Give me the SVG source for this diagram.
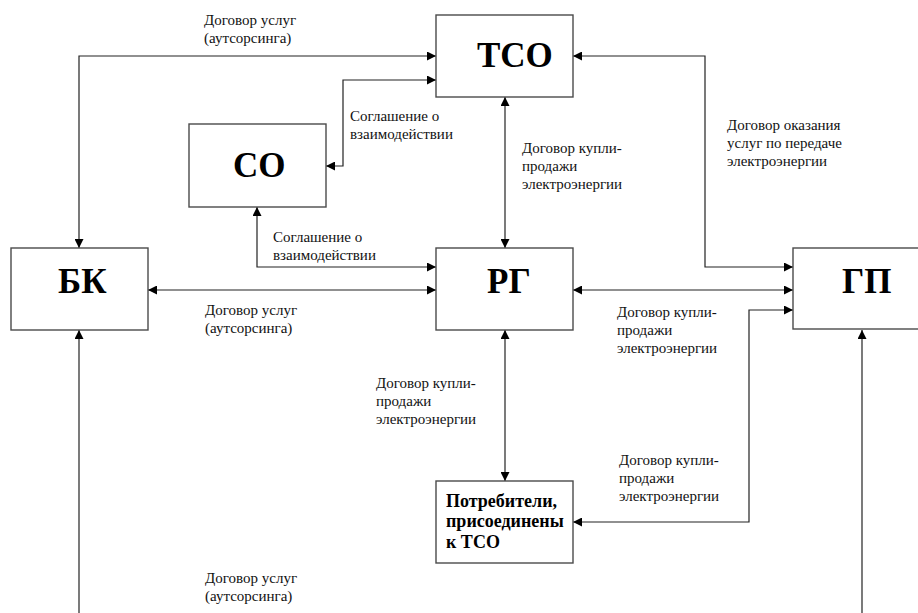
<svg xmlns="http://www.w3.org/2000/svg" width="918" height="613" viewBox="0 0 918 613">
<style>
.box{fill:#fff;stroke:#4a4a4a;stroke-width:1.4}
text{font-family:'Liberation Serif','DejaVu Serif',serif}
.big{font-weight:bold;font-size:35px;fill:#000}
.bold{font-weight:bold;font-size:18px;fill:#000}
.lbl{font-size:15px;fill:#111}
.con{fill:none;stroke:#222;stroke-width:1.2}
.both{marker-start:url(#ah);marker-end:url(#ah)}
.start{marker-start:url(#ah)}
</style>
<defs>
<marker id="ah" viewBox="0 0 10 10" refX="10" refY="5" markerWidth="9" markerHeight="9" markerUnits="userSpaceOnUse" orient="auto-start-reverse">
<path d="M0,0 L10,5 L0,10 Z" fill="#000"/>
</marker>
</defs>
<g id="connectors">
<path class="con both" d="M79,248 V56 H436"/>
<path class="con both" d="M326,166 H343 V80 H436"/>
<path class="con both" d="M257,207 V267 H436"/>
<path class="con both" d="M148,290 H436"/>
<path class="con both" d="M505,97 V248"/>
<path class="con both" d="M573,56 H705 V267 H793"/>
<path class="con both" d="M573,290 H793"/>
<path class="con both" d="M793,310 H749 V522 H573"/>
<path class="con both" d="M505,330 V481"/>
<path class="con start" d="M79,330 V613"/>
<path class="con start" d="M862,330 V613"/>
</g>
<g id="TSO"><rect class="box" x="436" y="15" width="137" height="82"/><text class="big" x="477" y="67">ТСО</text></g>
<g id="SO"><rect class="box" x="189" y="124" width="137" height="83"/><text class="big" x="233" y="177">СО</text></g>
<g id="BK"><rect class="box" x="11" y="248" width="137" height="82"/><text class="big" x="58" y="293">БК</text></g>
<g id="RG"><rect class="box" x="436" y="248" width="137" height="82"/><text class="big" x="487" y="293">РГ</text></g>
<g id="GP"><rect class="box" x="793" y="248" width="140" height="81"/><text class="big" x="842" y="293">ГП</text></g>
<g id="Potr"><rect class="box" x="436" y="481" width="137" height="82"/>
<text class="bold" x="446" y="507">Потребители,</text>
<text class="bold" x="446" y="527">присоединены</text>
<text class="bold" x="446" y="548">к ТСО</text></g>
<g id="labels">
<text class="lbl" x="204" y="25">Договор услуг</text>
<text class="lbl" x="204" y="43">(аутсорсинга)</text>
<text class="lbl" x="350" y="121">Соглашение о</text>
<text class="lbl" x="350" y="139">взаимодействии</text>
<text class="lbl" x="273" y="242">Соглашение о</text>
<text class="lbl" x="273" y="260">взаимодействии</text>
<text class="lbl" x="205" y="315">Договор услуг</text>
<text class="lbl" x="205" y="333">(аутсорсинга)</text>
<text class="lbl" x="522" y="153">Договор купли-</text>
<text class="lbl" x="522" y="171">продажи</text>
<text class="lbl" x="522" y="189">электроэнергии</text>
<text class="lbl" x="727" y="130">Договор оказания</text>
<text class="lbl" x="727" y="148">услуг по передаче</text>
<text class="lbl" x="727" y="166">электроэнергии</text>
<text class="lbl" x="617" y="317">Договор купли-</text>
<text class="lbl" x="617" y="335">продажи</text>
<text class="lbl" x="617" y="353">электроэнергии</text>
<text class="lbl" x="376" y="388">Договор купли-</text>
<text class="lbl" x="376" y="406">продажи</text>
<text class="lbl" x="376" y="424">электроэнергии</text>
<text class="lbl" x="619" y="465">Договор купли-</text>
<text class="lbl" x="619" y="483">продажи</text>
<text class="lbl" x="619" y="501">электроэнергии</text>
<text class="lbl" x="205" y="583">Договор услуг</text>
<text class="lbl" x="205" y="601">(аутсорсинга)</text>
</g>
</svg>
